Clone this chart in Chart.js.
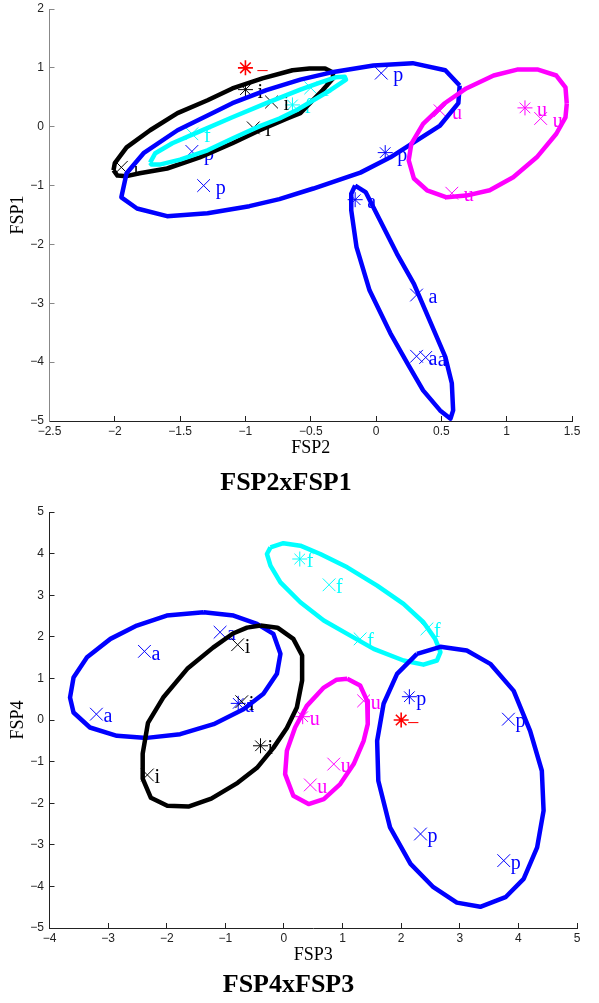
<!DOCTYPE html>
<html>
<head>
<meta charset="utf-8">
<script src="https://cdn.jsdelivr.net/npm/chart.js@4.4.0/dist/chart.umd.min.js"></script>
<style>
  body { margin: 0; background: #fff; }
  .box { position: absolute; left: 0; width: 599px; }
</style>
</head>
<body>
<div class="box" style="top:0;height:500px"><canvas id="c1"></canvas></div>
<div class="box" style="top:500px;height:503px"><canvas id="c2"></canvas></div>
<script>
// ---- FSP2 x FSP1 : points ----
const fsp2 = [-1.00, -1.00, -0.80, -0.94, -1.95, -0.64, -0.50, -1.41, -1.41, -1.32, 0.04, 0.07, 0.49, 1.14, 1.26, 0.58, -0.16, 0.31, 0.31, 0.38]
const fsp1 = [1.00, 0.63, 0.42, -0.02, -0.69, 0.37, 0.66, -0.12, -0.42, -1.00, 0.91, -0.44, 0.27, 0.32, 0.14, -1.13, -1.24, -2.86, -3.90, -3.92]
const cls1 = ['–', 'i', 'i', 'i', 'i', 'f', 'f', 'f', 'p', 'p', 'p', 'p', 'u', 'u', 'u', 'u', 'a', 'a', 'a', 'a']
const mark1 = ['*', '*', 'x', 'x', 'x', '*', 'x', 'x', 'x', 'x', 'x', '*', 'x', '*', 'x', 'x', '*', 'x', 'x', 'x']

// ---- FSP2 x FSP1 : class ellipses (outline vertices) ----
const e1aX = [-0.16, -0.08, 0.03, 0.16, 0.29, 0.41, 0.53, 0.58, 0.59, 0.57, 0.49, 0.36, 0.24, 0.11, -0.05, -0.15, -0.19, -0.19]
const e1aY = [-1.00, -1.11, -1.59, -2.16, -2.67, -3.29, -3.91, -4.36, -4.82, -4.96, -4.82, -4.48, -4.02, -3.51, -2.78, -2.04, -1.42, -1.14]
const e1iX = [-2.01, -2.00, -1.91, -1.73, -1.52, -1.29, -1.10, -0.87, -0.64, -0.51, -0.39, -0.33, -0.33, -0.41, -0.58, -0.68, -0.89, -1.10, -1.35, -1.60, -1.81, -1.91, -1.98]
const e1iY = [-0.74, -0.62, -0.35, -0.06, 0.23, 0.45, 0.65, 0.82, 0.96, 0.99, 0.99, 0.92, 0.82, 0.62, 0.23, 0.14, -0.06, -0.28, -0.52, -0.71, -0.79, -0.84, -0.83]
const e1fX = [-1.73, -1.69, -1.56, -1.35, -1.10, -0.84, -0.58, -0.43, -0.31, -0.24, -0.23, -0.27, -0.35, -0.48, -0.61, -0.74, -0.89, -1.10, -1.29, -1.50, -1.65, -1.72]
const e1fY = [-0.61, -0.45, -0.28, -0.08, 0.16, 0.40, 0.63, 0.75, 0.84, 0.85, 0.80, 0.74, 0.62, 0.45, 0.28, 0.14, 0.01, -0.20, -0.40, -0.56, -0.64, -0.64]
const e1pX = [0.64, 0.63, 0.49, 0.28, 0.11, -0.12, -0.48, -0.74, -0.97, -1.29, -1.60, -1.83, -1.95, -1.91, -1.78, -1.52, -1.29, -1.10, -0.84, -0.58, -0.35, -0.02, 0.28, 0.53]
const e1pY = [0.70, 0.40, 0.02, -0.28, -0.52, -0.78, -1.05, -1.23, -1.35, -1.47, -1.52, -1.39, -1.20, -0.79, -0.45, -0.06, 0.19, 0.40, 0.62, 0.80, 0.92, 1.04, 1.08, 0.96]
const e1uX = [1.46, 1.45, 1.38, 1.24, 1.08, 0.90, 0.69, 0.52, 0.36, 0.27, 0.25, 0.29, 0.39, 0.54, 0.69, 0.87, 1.05, 1.23, 1.38, 1.45]
const e1uY = [0.39, 0.67, 0.87, 0.97, 0.97, 0.87, 0.65, 0.39, 0.05, -0.29, -0.57, -0.88, -1.08, -1.20, -1.17, -1.08, -0.86, -0.52, -0.12, 0.16]

// ---- FSP3 x FSP4 : points ----
const fsp3 = [2.00, -2.38, -1.09, -3.20, -0.78, -0.79, -0.72, -0.40, -2.33, 0.27, 0.77, 1.30, 2.44, 0.32, 1.36, 0.85, 0.45, 2.14, 3.83, 2.33, 3.75]
const fsp4 = [0.00, 1.65, 2.11, 0.14, 0.40, 1.81, 0.44, -0.62, -1.32, 3.87, 3.25, 1.95, 2.19, 0.08, 0.46, -1.06, -1.56, 0.56, 0.02, -2.74, -3.38]
const cls2 = ['–', 'a', 'a', 'a', 'a', 'i', 'i', 'i', 'i', 'f', 'f', 'f', 'f', 'u', 'u', 'u', 'u', 'p', 'p', 'p', 'p']
const mark2 = ['*', 'x', 'x', 'x', '*', 'x', 'x', '*', 'x', '*', 'x', 'x', 'x', '*', 'x', 'x', 'x', '*', 'x', 'x', 'x']

// ---- FSP3 x FSP4 : class ellipses ----
const e2aX = [-1.37, -0.86, -0.46, -0.18, -0.06, -0.12, -0.35, -0.69, -1.20, -1.77, -2.34, -2.85, -3.31, -3.59, -3.65, -3.59, -3.36, -2.96, -2.51, -2.00]
const e2aY = [2.59, 2.51, 2.31, 2.07, 1.59, 1.11, 0.63, 0.26, -0.10, -0.34, -0.43, -0.38, -0.18, 0.18, 0.54, 1.02, 1.51, 1.95, 2.27, 2.51]
const e2iX = [-0.40, -0.11, 0.16, 0.31, 0.31, 0.22, 0.05, -0.18, -0.46, -0.79, -1.24, -1.63, -1.99, -2.27, -2.41, -2.41, -2.32, -2.06, -1.65, -1.21, -0.87, -0.63]
const e2iY = [2.27, 2.22, 1.95, 1.55, 0.95, 0.30, -0.19, -0.67, -1.15, -1.51, -1.89, -2.08, -2.06, -1.87, -1.41, -0.81, -0.07, 0.54, 1.23, 1.74, 2.08, 2.22]
const e2fX = [-0.23, -0.01, 0.28, 0.62, 1.08, 1.59, 2.04, 2.38, 2.58, 2.67, 2.61, 2.38, 2.04, 1.53, 1.08, 0.68, 0.28, -0.06, -0.23, -0.29]
const e2fY = [4.15, 4.25, 4.19, 3.99, 3.67, 3.23, 2.79, 2.35, 1.95, 1.63, 1.43, 1.33, 1.43, 1.71, 2.07, 2.39, 2.83, 3.31, 3.71, 3.99]
const e2uX = [1.08, 1.30, 1.42, 1.43, 1.36, 1.19, 0.96, 0.68, 0.42, 0.16, 0.02, 0.05, 0.19, 0.39, 0.68, 0.90]
const e2uY = [0.99, 0.83, 0.46, -0.10, -0.50, -1.06, -1.54, -1.90, -2.02, -1.82, -1.30, -0.74, -0.18, 0.34, 0.78, 0.97]
const e2pX = [2.27, 2.67, 3.12, 3.52, 3.92, 4.20, 4.40, 4.43, 4.32, 4.09, 3.78, 3.35, 2.95, 2.55, 2.16, 1.81, 1.61, 1.59, 1.70, 1.93]
const e2pY = [1.59, 1.76, 1.67, 1.35, 0.70, -0.26, -1.22, -2.18, -3.06, -3.82, -4.26, -4.49, -4.39, -4.02, -3.46, -2.58, -1.46, -0.50, 0.39, 1.11]

// ---- tick labels ----
const ticksFsp2 = [-2.5, -2, -1.5, -1, -0.5, 0, 0.5, 1, 1.5]
const ticksFsp1 = [-5, -4, -3, -2, -1, 0, 1, 2]
const ticksFsp3 = [-4, -3, -2, -1, 0, 1, 2, 3, 4, 5]
const ticksFsp4 = [-5, -4, -3, -2, -1, 0, 1, 2, 3, 4, 5]

const classColor = { a: '#0000ff', p: '#0000ff', i: '#000000', f: '#00ffff', u: '#ff00ff', '–': '#ff0000' }

function pointsSet(xs, ys, cls, marks) {
    return {
        data: xs.map((x, k) => ({ x: x, y: ys[k] })),
        pointStyle: marks.map(m => m === '*' ? 'star' : 'crossRot'),
        pointRadius: marks.map(m => m === '*' ? 7.5 : 9),
        pointBorderColor: cls.map(c => classColor[c]),
        pointBackgroundColor: 'rgba(0,0,0,0)',
        pointBorderWidth: cls.map(c => c === '–' ? 1.6 : 1),
        order: 99,
        clip: false,
    }
}

function ellipseSet(xs, ys, color, order) {
    let pts = xs.map((x, k) => ({ x: x, y: ys[k] }))
    pts.push(pts[0])
    return {
        data: pts,
        showLine: true,
        borderColor: color,
        borderWidth: 4.5,
        borderJoinStyle: 'round',
        pointRadius: 0,
        fill: false,
        order: order,
        clip: false,
    }
}

// letters next to each marker, drawn before the ellipses
const letters = {
    id: 'letters',
    afterDatasetDraw(chart, args, opts) {
        if (args.index !== 0) return
        const ctx = chart.ctx
        ctx.save()
        ctx.font = '20px "Liberation Serif"'
        ctx.textBaseline = 'middle'
        args.meta.data.forEach((pt, k) => {
            const c = opts.cls[k]
            ctx.fillStyle = classColor[c]
            ctx.fillText(c, pt.x + opts.dx, pt.y + opts.dy)
        })
        ctx.restore()
    }
}

function axis(pos, min, max, ticks, title, color) {
    const horiz = pos === 'bottom'
    return {
        type: 'linear',
        position: pos,
        min: min,
        max: max,
        afterBuildTicks: s => { s.ticks = ticks.map(v => ({ value: v })) },
        afterFit: s => {
            if (horiz) s.height = 40; else s.width = 49.5
            s.paddingTop = 0; s.paddingBottom = 0; s.paddingLeft = 0; s.paddingRight = 0
        },
        grid: { display: true, drawOnChartArea: false, drawTicks: true, tickLength: -5, tickColor: color, color: color },
        border: { display: true, color: color, width: 1 },
        ticks: {
            color: '#222',
            font: { family: 'Liberation Sans', size: 12 },
            padding: horiz ? 8.3 : 10.5,
            autoSkip: false,
            maxRotation: 0,
            callback: v => String(v).replace('-', '\u2212'),
        },
        title: {
            display: true,
            text: title,
            color: '#000',
            font: { family: 'Liberation Serif', size: 18 },
            padding: horiz ? { top: 0, bottom: 2.2 } : { top: 7, bottom: 0 },
        },
    }
}

function makeChart(id, datasets, scales, pad, titleText, titlePad, cls, dx, dy) {
    return new Chart(id, {
        type: 'scatter',
        data: { datasets: datasets },
        options: {
            responsive: true,
            maintainAspectRatio: false,
            animation: false,
            layout: { padding: pad, autoPadding: false },
            scales: scales,
            plugins: {
                legend: { display: false },
                tooltip: { enabled: false },
                title: {
                    display: true,
                    position: 'bottom',
                    text: titleText,
                    color: '#000',
                    font: { family: 'Liberation Serif', size: 26, weight: 'bold' },
                    padding: titlePad,
                },
                letters: { cls: cls, dx: dx, dy: dy },
            },
        },
        plugins: [letters],
    })
}

makeChart('c1', [
    pointsSet(fsp2, fsp1, cls1, mark1),
    ellipseSet(e1iX, e1iY, '#000000', 5),
    ellipseSet(e1pX, e1pY, '#0000ff', 4),
    ellipseSet(e1fX, e1fY, '#00ffff', 3),
    ellipseSet(e1aX, e1aY, '#0000ff', 2),
    ellipseSet(e1uX, e1uY, '#ff00ff', 1),
], {
    x: axis('bottom', -2.5, 1.5, ticksFsp2, 'FSP2', '#222'),
    y: axis('left', -5, 2, ticksFsp1, 'FSP1', '#888'),
}, { top: 9, right: 27, left: 0, bottom: 0 }, 'FSP2xFSP1', { top: 6.4, bottom: 1.4 }, cls1, 12, 3)

makeChart('c2', [
    pointsSet(fsp3, fsp4, cls2, mark2),
    ellipseSet(e2aX, e2aY, '#0000ff', 5),
    ellipseSet(e2iX, e2iY, '#000000', 4),
    ellipseSet(e2fX, e2fY, '#00ffff', 3),
    ellipseSet(e2uX, e2uY, '#ff00ff', 2),
    ellipseSet(e2pX, e2pY, '#0000ff', 1),
], {
    x: axis('bottom', -4, 5, ticksFsp3, 'FSP3', '#222'),
    y: axis('left', -5, 5, ticksFsp4, 'FSP4', '#222'),
}, { top: 12, right: 22, left: 0, bottom: 0 }, 'FSP4xFSP3', { top: 1.4, bottom: 2.4 }, cls2, 7, 3)
</script>
</body>
</html>
